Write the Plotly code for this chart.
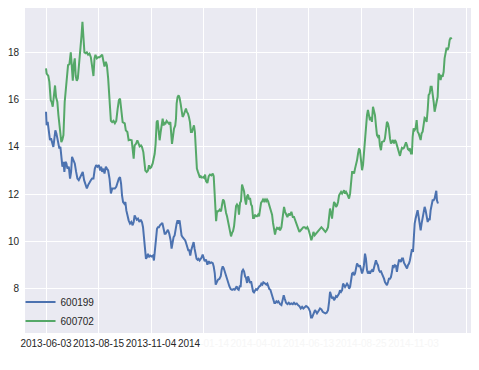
import plotly.graph_objects as go

# ---- data (trading-day index from 2013-06-03, closing price) ----
green_day = [0.0,0.6,2.2,3.2,4.5,5.4,6.4,7.6,8.6,9.6,10.8,11.8,13.4,14.6,15.6,16.6,17.8,19.1,19.7,21.0,22.3,23.6,24.5,25.5,26.4,27.4,28.3,29.3,30.3,31.5,32.8,33.8,34.7,35.7,36.6,37.9,38.9,40.1,41.4,42.7,43.9,45.2,46.2,47.1,48.4,49.7,51.0,52.2,53.5,54.8,55.7,57.0,58.0,59.2,60.5,61.8,63.0,64.3,65.6,66.9,68.2,69.4,
             70.5,72.0,73.0,75.0,76.0,77.5,78.7,80.0,81.6,82.5,83.5,84.4,85.7,87.0,88.0,89.2,90.5,91.4,92.7,93.6,94.6,95.9,97.1,98.1,99.0,100.3,101.6,102.5,103.5,104.4,105.4,106.3,107.3,108.2,109.2,110.1,111.1,112.0,113.0,113.9,114.9,115.8,117.1,118.4,119.3,120.0,120.9,121.9,123.1,123.8,124.4,125.3,126.3,127.2,128.2,129.1,130.1,131.0,132.3,133.3,134.2,135.2,136.1,137.1,138.0,139.0,139.9,140.9,141.8,142.8,143.7,144.7,145.6,146.6,147.5,148.5,149.8,
             150.5,151.5,152.4,153.7,155.0,156.2,157.5,158.8,159.7,160.4,161.3,162.0,162.9,164.2,165.4,166.7,167.7,168.6,169.6,170.5,171.5,172.4,173.4,174.3,175.3,176.2,177.2,178.1,179.1,180.0,181.0,181.9,182.9,183.8,184.8,185.7,186.7,187.7,188.6,189.6,190.5,191.5,192.4,193.4,194.3,195.3,196.2,197.2,198.1,199.1,200.0,201.0,202.0,202.9,203.9,204.8,205.8,206.7,207.7,208.6,209.6,210.5,211.5,212.4,213.4,214.3,215.3,216.2,217.2,218.1,219.1,220.0,221.0,222.0,
             222.9,224.2,225.4,226.7,227.7,228.6,229.9,231.2,232.4,233.7,235.0,236.2,237.5,238.8,240.0,241.3,242.6,243.9,245.1,246.4,247.7,248.9,250.2,251.5,252.7,253.7,254.7,255.9,257.2,258.5,259.7,261.0,262.3,263.5,264.8,266.1,267.3,268.6,269.6,270.5,271.5,272.4,273.4,274.3,275.3,276.2,277.2,278.1,279.1,280.0,281.0,282.0,282.9,283.9,284.8,285.8,286.7,287.7,288.6,289.6,290.5,291.5,292.4,293.4,294.3,295.3,296.2,297.2,298.1,
             299.0,300.0,301.0,301.9,302.8,303.8,304.7,305.7,306.6,307.6,308.5,309.5,310.4,311.4,312.3,313.3,314.2,315.2,316.1,317.1,318.0,319.0,320.0,320.9,321.9,322.8,323.8,324.7,325.7,326.6,327.6,328.5,329.5,330.4,331.4,332.3,333.3,334.2,335.2,336.1,337.1,338.0,339.0,340.0,340.9,341.9,342.8,343.8,344.7,345.7,346.6,347.6,348.5,349.2,350.1,351.1,352.0,353.0,353.9,354.9,355.8,356.8,357.7,358.7,359.6,360.6,361.5,362.5,363.5,364.4,365.4,366.3,367.3,368.2,369.2,370.1,371.1,372.0,373.0,373.9,374.9,375.8,376.8,377.7,378.7,379.6,380.6,381.5,382.5,383.5,384.4,385.4,386.3]
green_val = [17.32,17.1,17.0,16.75,15.98,15.9,15.7,16.2,16.6,16.1,15.9,15.35,14.8,14.2,14.3,14.5,15.9,16.55,16.6,17.46,17.5,18.0,17.46,16.8,17.46,17.75,17.0,16.8,16.9,17.46,18.0,18.7,19.3,18.6,18.0,17.96,18.0,17.9,17.95,17.8,17.5,17.0,17.75,17.9,17.75,17.8,17.8,17.86,17.9,17.6,17.4,17.6,17.46,16.9,16.05,15.1,15.05,15.1,15.0,15.1,15.6,15.98,
             16.04,15.55,15.05,15.0,14.7,14.63,14.28,14.3,14.28,13.92,13.5,14.06,14.13,14.28,14.13,14.02,14.06,14.0,13.78,13.43,13.0,12.94,13.0,13.22,13.08,13.15,13.3,13.5,13.71,14.13,15.05,15.12,14.49,14.28,14.63,14.98,15.2,14.91,15.05,15.0,15.1,15.05,14.98,15.05,14.49,14.13,14.42,14.77,14.91,15.2,15.83,16.11,16.18,16.08,15.83,15.41,15.27,15.34,15.48,15.62,15.48,15.41,15.27,15.05,14.63,14.63,14.77,14.91,14.63,14.0,13.08,12.94,12.8,12.7,12.75,12.7,12.72,
             12.69,12.83,12.55,12.47,12.76,12.83,12.79,12.87,12.76,12.19,11.34,10.85,11.27,11.27,11.34,11.27,11.56,11.77,11.7,11.34,11.2,11.06,10.85,10.57,10.5,10.21,10.36,10.43,10.64,11.06,11.49,11.56,11.49,11.13,11.63,11.7,12.4,12.26,12.12,11.77,11.56,11.91,11.98,11.77,11.84,11.56,11.49,10.99,10.99,11.13,11.06,11.06,11.13,11.06,11.34,11.63,11.7,11.77,11.7,11.77,11.7,11.77,11.7,11.56,11.34,11.2,11.13,10.78,10.5,10.29,10.5,10.57,10.53,10.57,
             10.46,10.6,11.03,11.46,11.25,11.18,11.03,11.18,11.1,11.25,11.03,11.03,10.89,10.75,10.6,10.4,10.47,10.54,10.6,10.6,10.54,10.6,10.47,10.26,10.05,10.19,10.4,10.26,10.33,10.4,10.47,10.5,10.6,10.54,10.47,10.4,10.47,10.6,11.03,11.39,11.18,10.96,11.39,11.67,11.6,11.46,11.53,11.67,11.95,12.02,12.09,12.02,12.09,12.16,12.02,12.09,12.02,11.88,11.81,12.02,12.45,12.94,12.94,12.87,13.08,13.22,13.43,13.72,13.93,
             13.86,13.37,13.01,13.23,13.79,14.5,14.64,15.34,15.56,15.34,15.13,15.27,15.06,15.7,15.56,15.34,14.92,14.5,14.43,14.5,14.07,13.86,14.21,14.21,14.24,14.36,14.64,15.06,14.99,14.78,14.36,14.14,14.21,14.29,14.14,14.29,14.21,14.07,13.93,13.72,13.62,13.79,13.96,13.93,13.96,14.07,14.19,14.07,13.9,13.86,13.93,13.72,13.72,14.43,14.78,14.71,14.78,15.13,14.64,14.57,14.43,14.29,14.57,14.64,14.92,15.23,15.2,15.06,15.56,16.19,16.26,16.55,16.55,16.33,15.91,15.49,15.7,15.84,16.12,17.11,17.04,16.83,17.04,16.97,17.18,17.75,18.1,18.2,18.1,18.24,18.52,18.62,18.56]

blue_day = [0.0,0.6,1.6,2.5,3.8,4.8,5.7,7.0,7.6,8.9,9.9,10.8,11.8,12.7,13.7,14.6,15.6,16.6,17.5,18.5,19.4,20.4,21.7,22.9,23.9,24.8,26.1,27.4,28.7,29.9,31.2,32.5,33.8,35.0,36.3,37.6,38.9,40.1,41.4,42.7,43.9,45.2,46.5,47.8,49.0,50.3,51.6,52.5,53.5,54.8,55.7,57.0,58.0,59.2,60.5,61.8,63.1,64.3,65.6,66.9,68.2,69.4,
            70.5,71.5,72.4,73.4,74.6,75.6,76.5,77.5,78.7,80.0,81.3,82.5,83.5,84.4,85.4,86.4,87.6,88.9,90.2,91.4,92.4,93.3,94.3,95.2,96.2,97.1,98.1,99.3,100.6,101.9,102.8,103.8,104.7,105.7,106.6,107.6,108.5,109.8,110.8,111.7,113.0,113.9,114.9,116.1,117.4,118.7,119.6,120.6,121.5,122.5,123.4,124.4,125.3,126.3,127.2,128.2,129.1,130.1,131.4,132.6,133.6,134.5,135.5,136.4,137.4,138.3,139.6,140.6,141.5,142.5,143.4,144.4,145.3,146.3,
            148.0,149.2,150.2,151.1,152.4,153.7,155.0,156.2,157.5,158.8,159.7,160.7,161.6,162.6,163.8,165.1,166.4,167.3,168.3,169.2,170.2,171.1,172.1,173.4,174.6,175.9,177.2,178.4,179.7,180.7,181.6,182.6,183.5,184.5,185.4,186.1,186.7,187.7,188.6,189.6,190.5,191.5,192.4,193.4,194.3,195.3,196.2,197.2,198.1,199.1,200.0,201.0,202.0,203.2,204.2,205.1,206.1,207.0,208.0,209.0,209.9,210.8,211.8,212.7,213.7,214.6,215.6,216.5,217.5,218.4,219.4,220.4,221.3,222.3,
            222.9,224.2,225.4,226.4,227.3,228.6,229.9,231.2,232.4,233.7,235.0,236.2,237.5,238.8,240.0,241.3,242.6,243.9,245.1,246.4,247.7,248.9,250.2,251.5,252.4,253.4,254.3,255.3,256.2,257.2,258.1,259.1,260.0,261.0,262.3,263.5,264.8,266.1,267.3,268.6,269.6,270.5,271.5,272.4,273.4,274.3,275.3,276.2,277.2,278.1,279.1,280.0,281.0,282.0,282.9,283.9,284.8,285.8,286.7,287.7,288.6,289.6,290.5,291.5,292.4,293.4,294.3,295.3,296.2,297.2,298.1,
            299.0,300.0,301.0,301.9,302.8,303.8,304.7,305.7,306.6,307.6,308.5,309.5,310.4,311.4,312.3,313.3,314.2,315.2,316.1,317.1,318.0,319.0,320.0,320.9,321.9,322.8,323.8,324.7,325.7,326.6,327.6,328.5,329.5,330.4,331.4,332.3,333.3,334.2,335.2,336.1,337.1,338.0,339.0,340.0,340.9,341.9,342.8,343.8,344.7,345.7,346.6,347.6,348.5,349.5,350.1,351.1,352.0,353.0,353.9,354.9,355.8,356.8,357.7,358.7,359.6,360.6,361.5,362.5,363.5,364.4,365.4,366.3,367.3,368.2,369.2,370.1,371.1,371.7,372.3,373.3]
blue_val = [15.49,14.92,15.06,14.64,14.29,14.36,14.14,14.0,14.2,14.7,14.57,14.36,14.0,13.93,14.0,13.37,13.16,13.37,12.94,13.37,13.3,13.08,13.16,12.66,12.94,13.58,13.44,13.3,12.94,12.66,12.59,12.73,12.8,12.94,12.59,12.38,12.24,12.38,12.52,12.59,12.66,12.66,13.08,13.23,13.16,13.23,13.0,13.16,12.94,13.08,12.87,13.16,13.08,13.0,12.66,12.03,12.24,12.24,12.24,12.31,12.52,12.66,
            12.72,12.44,11.95,11.66,11.59,11.66,11.31,11.03,10.89,10.75,10.82,10.68,10.82,11.1,11.03,10.92,10.96,10.82,10.92,10.82,10.6,10.18,9.55,9.26,9.33,9.47,9.33,9.4,9.36,9.4,9.19,9.62,10.04,10.53,10.6,10.6,10.68,10.75,10.78,10.6,10.32,10.32,10.39,10.49,10.32,10.04,9.69,9.97,10.18,10.25,10.6,10.75,10.89,10.75,10.89,10.53,10.25,10.18,10.11,10.04,9.9,9.76,9.62,9.62,9.4,9.62,9.9,9.97,9.69,9.47,9.26,9.22,9.26,9.19,
            9.3,9.44,9.3,9.16,9.23,9.01,9.16,9.08,9.11,9.08,8.94,8.66,8.17,8.24,8.38,8.41,8.52,8.8,8.94,8.87,8.73,8.52,8.38,8.24,8.1,7.98,7.95,7.98,7.95,8.03,8.1,7.98,7.95,8.1,8.1,8.52,8.73,8.8,8.73,8.52,8.45,8.24,8.52,8.38,8.24,8.31,8.1,7.88,7.84,7.95,7.98,7.95,8.03,8.1,8.12,8.21,8.17,8.27,8.24,8.21,8.17,8.21,8.03,7.98,7.95,7.81,7.67,7.6,7.39,7.39,7.46,7.42,7.46,7.39,
            7.34,7.3,7.51,7.72,7.58,7.4,7.34,7.4,7.34,7.37,7.34,7.4,7.34,7.37,7.3,7.26,7.16,7.23,7.16,7.2,7.26,7.23,7.16,7.02,6.78,6.78,6.88,6.95,7.09,7.02,6.95,7.02,7.09,7.16,7.12,7.02,6.98,6.95,6.98,7.09,7.44,7.86,7.72,7.58,7.65,7.51,7.58,7.68,7.65,7.72,7.79,7.93,7.86,7.93,8.21,8.14,8.07,8.14,8.21,8.14,8.0,8.07,8.43,8.64,8.67,8.57,8.64,8.85,9.06,8.99,8.92,
            8.99,8.85,8.64,8.78,8.99,9.48,9.27,8.78,8.64,8.71,8.64,8.73,8.78,8.71,8.85,8.99,9.2,9.06,8.99,8.78,8.71,8.73,8.64,8.56,8.42,8.28,8.17,8.14,8.28,8.42,8.42,8.49,8.71,8.99,8.92,8.99,8.96,8.71,8.99,9.2,9.2,9.13,9.27,9.27,9.1,8.99,8.92,8.85,8.99,9.06,9.2,9.48,9.67,9.55,10.12,10.75,10.97,11.18,11.32,11.04,10.82,10.47,10.75,11.04,11.32,11.46,11.32,10.97,10.82,10.97,10.9,11.32,11.53,11.74,11.74,11.81,12.03,12.14,11.74,11.6]

tick_pos = [0, 50, 100, 150, 200, 250, 300, 350, 400]
tick_dates = ["2013-06-03", "2013-08-15", "2013-11-04", "2014-01-14",
              "2014-04-01", "2014-06-13", "2014-08-25", "2014-11-03", ""]

FADE = "#f6f6f6"
tick_text = []
for i, d in enumerate(tick_dates):
    if i < 3 or d == "":
        tick_text.append(d)
    elif i == 3:
        tick_text.append(d[:4] + "<span style='color:%s'>%s</span>" % (FADE, d[4:]))
    else:
        tick_text.append("<span style='color:%s'>%s</span>" % (FADE, d))

fig = go.Figure()
fig.add_trace(go.Scatter(x=blue_day, y=blue_val, mode="lines", name="600199",
                         line=dict(color="#4C72B0", width=2)))
fig.add_trace(go.Scatter(x=green_day, y=green_val, mode="lines", name="600702",
                         line=dict(color="#55A868", width=2)))

# page body has an 8px margin, so the figure is sized/offset to compensate
fig.update_layout(
    width=471, height=362,
    margin=dict(l=17, r=7, t=0, b=37),
    paper_bgcolor="white",
    plot_bgcolor="#EAEAF2",
    font=dict(family="Arial, Liberation Sans, sans-serif", size=10, color="#262626"),
    showlegend=True,
    legend=dict(x=-0.01, y=0.14, xanchor="left", yanchor="top",
                bgcolor="rgba(0,0,0,0)", font=dict(size=10, color="#262626")),
    xaxis=dict(range=[-20, 405.7], tickmode="array", tickvals=tick_pos,
               ticktext=tick_text, showgrid=True, gridcolor="white", gridwidth=1,
               zeroline=False, showline=False, ticks="outside", ticklen=1,
               tickcolor="rgba(0,0,0,0)", tickangle=0, automargin=False),
    yaxis=dict(range=[6.12, 19.88], tickmode="array", tickvals=[8, 10, 12, 14, 16, 18],
               showgrid=True, gridcolor="white", gridwidth=1, zeroline=False,
               showline=False, ticks="outside", ticklen=3, tickcolor="rgba(0,0,0,0)",
               automargin=False),
)

fig.write_html("out.html")
